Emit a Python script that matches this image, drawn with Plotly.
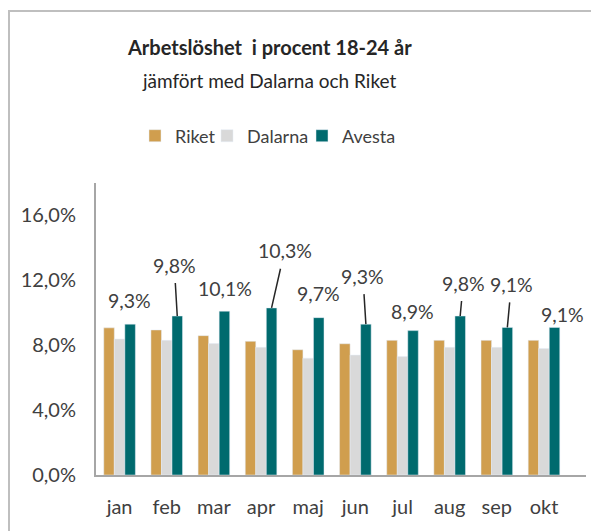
import plotly.graph_objects as go

months = ["jan", "feb", "mar", "apr", "maj", "jun", "jul", "aug", "sep", "okt"]
riket = [9.07, 8.94, 8.59, 8.24, 7.72, 8.09, 8.3, 8.3, 8.3, 8.3]
dalarna = [8.38, 8.3, 8.1, 7.87, 7.2, 7.39, 7.3, 7.87, 7.87, 7.8]
avesta = [9.3, 9.8, 10.1, 10.3, 9.7, 9.3, 8.9, 9.8, 9.1, 9.1]
avesta_labels = ["9,3%", "9,8%", "10,1%", "10,3%", "9,7%", "9,3%", "8,9%", "9,8%", "9,1%", "9,1%"]
y_ticks = [0, 4, 8, 12, 16]
y_tick_text = ["0,0%", "4,0%", "8,0%", "12,0%", "16,0%"]

FONT = "Lato"
TXT = "#404040"

# label offsets (pixels) and whether a leader line is drawn
label_dx = [-1, -3, 1, 13, 0, -3, -1, 3, 4, 8]
label_dy = [-24, -51, -23, -57, -24, -48, -19, -33, -43, -13]
leader = [False, True, False, True, False, True, False, True, True, False]

fig = go.Figure()
fig.add_trace(go.Bar(name="Riket", x=months, y=riket, marker_color="#D09E4E", legend="legend"))
fig.add_trace(go.Bar(name="Dalarna", x=months, y=dalarna, marker_color="#D9D9D9", legend="legend2"))
fig.add_trace(go.Bar(name="Avesta", x=months, y=avesta, marker_color="#006A6E", legend="legend3"))

annotations = []
for i, (v, t) in enumerate(zip(avesta, avesta_labels)):
    xpos = i + 0.223
    if leader[i]:
        annotations.append(dict(x=xpos, y=v, xref="x", yref="y", text=t,
                                showarrow=True, ax=label_dx[i], ay=label_dy[i],
                                arrowhead=0, arrowwidth=1.5, arrowcolor="#262626",
                                startstandoff=5, font=dict(family=FONT, size=19.5, color=TXT)))
    else:
        annotations.append(dict(x=xpos, y=v, xref="x", yref="y", text=t,
                                showarrow=False, xshift=label_dx[i], yshift=-label_dy[i],
                                font=dict(family=FONT, size=19.5, color=TXT)))

annotations.append(dict(x=(269 - 96) / 490, y=(475 - 47) / 292, xref="paper", yref="paper",
                        xanchor="center", yanchor="middle",
                        text="<b>Arbetslöshet  i procent 18-24 år</b>", showarrow=False,
                        font=dict(family=FONT, size=20, color="#262626")))
annotations.append(dict(x=(269 - 96) / 490, y=(475 - 80) / 292, xref="paper", yref="paper",
                        xanchor="center", yanchor="middle",
                        text="jämfört med Dalarna och Riket", showarrow=False,
                        font=dict(family=FONT, size=19, color="#262626")))


def leg(text_start):
    return dict(orientation="h", x=(text_start - 43 - 96) / 490, y=(475 - 136) / 292,
                xanchor="left", yanchor="middle", bgcolor="rgba(0,0,0,0)",
                font=dict(family=FONT, size=18, color=TXT), itemwidth=30)


fig.update_layout(
    width=591, height=523,
    margin=dict(l=88, r=13, t=175, b=56, autoexpand=False),
    paper_bgcolor="white", plot_bgcolor="white",
    barmode="group", bargap=0.33, bargroupgap=0,
    font=dict(family=FONT, size=18, color=TXT),
    showlegend=True,
    legend=leg(178), legend2=leg(250), legend3=leg(345),
    xaxis=dict(showline=True, linecolor="#A6A6A6", linewidth=2, ticks="", showgrid=False,
               automargin=False, ticklabelstandoff=13,
               tickfont=dict(family=FONT, size=20, color=TXT)),
    yaxis=dict(range=[0, 18], tickvals=y_ticks, ticktext=y_tick_text, showline=True,
               linecolor="#A6A6A6", linewidth=2, showgrid=False, zeroline=False, ticks="",
               automargin=False, ticklabelstandoff=14,
               tickfont=dict(family=FONT, size=20, color=TXT)),
    annotations=annotations,
)

fig.add_shape(type="rect", xref="paper", yref="paper",
              x0=(9 - 96) / 490, x1=(640 - 96) / 490, y0=(475 - 560) / 292, y1=(475 - 11) / 292,
              line=dict(color="#BFBFBF", width=2), fillcolor="rgba(0,0,0,0)", layer="below")

fig.write_html("out.html")
